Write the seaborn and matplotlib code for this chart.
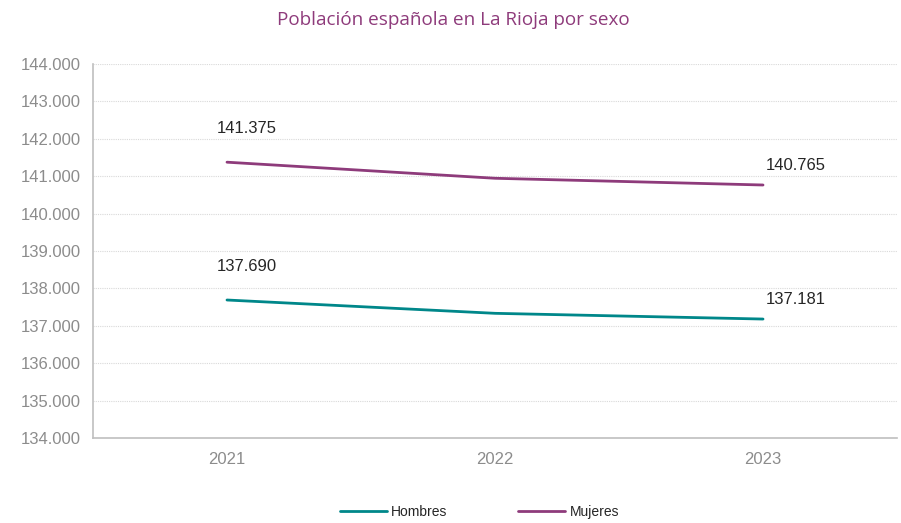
import matplotlib
matplotlib.use("Agg")
import matplotlib.pyplot as plt
import seaborn as sns
import pandas as pd
from matplotlib.ticker import FixedLocator, FuncFormatter
from matplotlib.lines import Line2D

years = ["2021", "2022", "2023"]
hombres = [137690, 137334, 137181]
mujeres = [141375, 140945, 140765]
series_names = ["Hombres", "Mujeres"]
colors = {"Hombres": "#00878A", "Mujeres": "#8E3B7B"}

df = pd.DataFrame({
    "pos": list(range(len(years))) * 2,
    "year": years * 2,
    "valor": hombres + mujeres,
    "sexo": ["Hombres"] * len(years) + ["Mujeres"] * len(years),
})

sns.set_theme(style="white")
plt.rcParams["font.family"] = ["Liberation Sans", "DejaVu Sans"]

fig = plt.figure(figsize=(9.01, 5.23), dpi=100)
ax = fig.add_axes([0.1032, 0.1625, 0.8924, 0.7151])

sns.lineplot(data=df, x="pos", y="valor", hue="sexo", hue_order=series_names,
             palette=colors, linewidth=2, ax=ax, legend=False)

ax.set_xlim(-0.5, len(years) - 0.5)
ax.set_ylim(134000, 144000)
ax.yaxis.set_major_locator(FixedLocator(list(range(134000, 144001, 1000))))
ax.yaxis.set_major_formatter(FuncFormatter(lambda v, p: f"{int(v):,}".replace(",", ".")))
ax.set_xticks([i - 0.5 for i in range(len(years) + 1)])
ax.set_xticklabels([""] * (len(years) + 1))
ax.set_xticks(range(len(years)), minor=True)
ax.set_xticklabels(years, minor=True)
ax.tick_params(axis="x", which="minor", length=0, pad=10, labelsize=12, labelcolor="#8c8c8c")
ax.tick_params(axis="x", which="major", length=5, color="#c8c8c8", width=1)
ax.tick_params(axis="y", length=5, color="#c8c8c8", width=1, labelsize=12,
               labelcolor="#8c8c8c", pad=4)
ax.set_xlabel("")
ax.set_ylabel("")

ax.grid(axis="y", color="#d9d9d9", linestyle=(0, (1, 1)), linewidth=0.8)
ax.set_axisbelow(True)
for s in ["top", "right"]:
    ax.spines[s].set_visible(False)
for s in ["left", "bottom"]:
    ax.spines[s].set_color("#bfbfbf")
    ax.spines[s].set_linewidth(1.2)

def fmt(v):
    return f"{v:,}".replace(",", ".")

for name, vals in (("Hombres", hombres), ("Mujeres", mujeres)):
    ax.annotate(fmt(vals[0]), (0, vals[0]), xytext=(20, 34), textcoords="offset pixels",
                ha="center", va="center", fontsize=12, color="#262626")
    ax.annotate(fmt(vals[-1]), (len(years) - 1, vals[-1]), xytext=(33, 20),
                textcoords="offset pixels", ha="center", va="center", fontsize=12, color="#262626")

fig.text(0.503, 0.962, "Población española en La Rioja por sexo", ha="center", va="center",
         fontsize=13.6, color="#8E3B7B", family=["Open Sans", "DejaVu Sans"])

handles = [Line2D([], [], color=colors[n], linewidth=2) for n in series_names]
fig.legend(handles, series_names, loc="center", bbox_to_anchor=(0.532, 0.021), ncol=2,
           frameon=False, fontsize=10, handlelength=3.4, handletextpad=0.3, columnspacing=5.1)

fig.savefig("out.png", dpi=100)
